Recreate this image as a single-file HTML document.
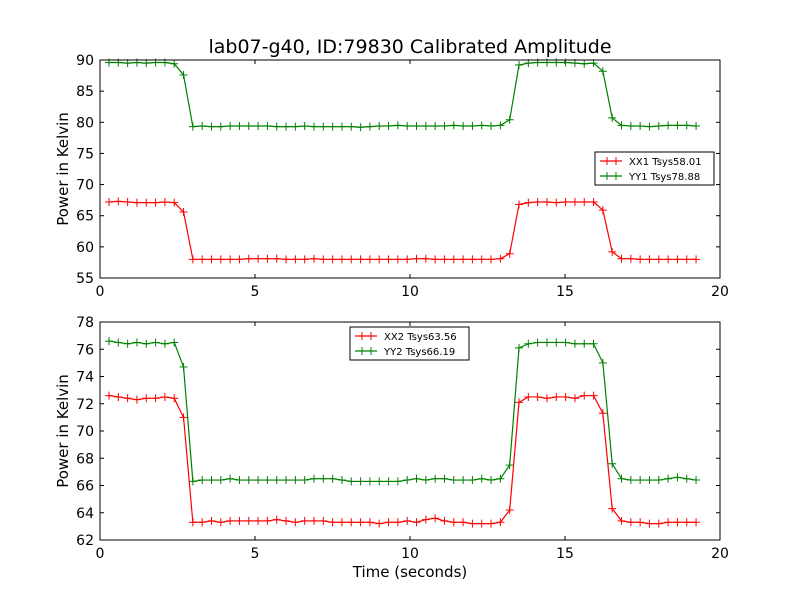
<!DOCTYPE html>
<html><head><meta charset="utf-8"><style>
body{margin:0;background:#fff;}
svg text{font-family:"DejaVu Sans","Liberation Sans",sans-serif;fill:#000;}
</style></head><body>
<svg id="chart" width="800" height="600" xmlns="http://www.w3.org/2000/svg">
<rect width="800" height="600" fill="#fff"/>
<g id="g"></g>
</svg>
<script>
const topXX = [67.2,67.3,67.2,67.1,67.1,67.1,67.2,67.1,65.6,
58.0,58.0,58.0,58.0,58.0,58.0,58.1,58.1,58.1,58.1,58.0,58.0,58.0,58.1,58.0,58.0,58.0,58.0,58.0,58.0,58.0,58.0,58.0,58.0,58.1,58.1,58.0,58.0,58.0,58.0,58.0,58.0,58.0,58.1,
58.9,66.8,67.1,67.2,67.2,67.1,67.2,67.2,67.2,67.2,65.9,59.2,58.1,58.1,58.0,58.0,58.0,58.0,58.0,58.0,58.0];
const topYY = [89.6,89.6,89.5,89.6,89.5,89.6,89.6,89.4,87.6,
79.3,79.4,79.3,79.3,79.4,79.4,79.4,79.4,79.4,79.3,79.3,79.3,79.4,79.3,79.3,79.3,79.3,79.3,79.2,79.3,79.4,79.4,79.5,79.4,79.4,79.4,79.4,79.4,79.5,79.4,79.4,79.5,79.4,79.5,
80.4,89.2,89.5,89.6,89.6,89.6,89.6,89.5,89.4,89.5,88.2,80.7,79.5,79.4,79.4,79.3,79.4,79.5,79.5,79.5,79.4];
const botXX = [72.6,72.5,72.4,72.3,72.4,72.4,72.5,72.4,71.0,
63.3,63.3,63.4,63.3,63.4,63.4,63.4,63.4,63.4,63.5,63.4,63.3,63.4,63.4,63.4,63.3,63.3,63.3,63.3,63.3,63.2,63.3,63.3,63.4,63.3,63.5,63.6,63.4,63.3,63.3,63.2,63.2,63.2,63.3,
64.2,72.1,72.5,72.5,72.4,72.5,72.5,72.4,72.6,72.6,71.3,64.3,63.4,63.3,63.3,63.2,63.2,63.3,63.3,63.3,63.3];
const botYY = [76.6,76.5,76.4,76.5,76.4,76.5,76.4,76.5,74.7,
66.3,66.4,66.4,66.4,66.5,66.4,66.4,66.4,66.4,66.4,66.4,66.4,66.4,66.5,66.5,66.5,66.4,66.3,66.3,66.3,66.3,66.3,66.3,66.4,66.5,66.4,66.5,66.5,66.4,66.4,66.4,66.5,66.4,66.5,
67.5,76.1,76.4,76.5,76.5,76.5,76.5,76.4,76.4,76.4,75.0,67.6,66.5,66.4,66.4,66.4,66.4,66.5,66.6,66.5,66.4];
const tStart = 0.29, tStep = 0.3006;
const xTicks = [0,5,10,15,20];
const topYTicks = [55,60,65,70,75,80,85,90];
const botYTicks = [62,64,66,68,70,72,74,76,78];
const topLegend = ["XX1 Tsys58.01","YY1 Tsys78.88"];
const botLegend = ["XX2 Tsys63.56","YY2 Tsys66.19"];

const NS="http://www.w3.org/2000/svg";
const g=document.getElementById('g');
function mk(tag,attrs,parent){const e=document.createElementNS(NS,tag);for(const k in attrs)e.setAttribute(k,attrs[k]);(parent||g).appendChild(e);return e;}
function txt(s,attrs,parent){const e=mk('text',attrs,parent);e.textContent=s;return e;}

function panel(name,top,bottom,ymin,ymax,yTicks,s1,s2,leg,legX,legY,showXLabel){
  const L=100,R=720;
  const sx=t=>L+(t-0)/(20-0)*(R-L);
  const sy=v=>bottom-(v-ymin)/(ymax-ymin)*(bottom-top);
  const grp=mk('g',{});
  
  
  xTicks.forEach(t=>{
    const x=sx(t);
    mk('line',{x1:x,x2:x,y1:bottom,y2:bottom-4,stroke:'#000'},grp);
    mk('line',{x1:x,x2:x,y1:top,y2:top+4,stroke:'#000'},grp);
    const l=txt(String(t),{x:x,y:bottom+18,'text-anchor':'middle','font-size':14},grp);
    
    
  });
  yTicks.forEach(v=>{
    const y=sy(v);
    mk('line',{x1:L,x2:L+4,y1:y,y2:y,stroke:'#000'},grp);
    mk('line',{x1:R,x2:R-4,y1:y,y2:y,stroke:'#000'},grp);
    const l=txt(String(v),{x:L-6,y:y+5,'text-anchor':'end','font-size':14},grp);
    
    
  });
  [[s1,'#ff0000','xx'],[s2,'#008000','yy']].forEach(([arr,c,n])=>{
    const pts=arr.map((v,i)=>[sx(tStart+i*tStep),sy(v)]);
    const p=mk('polyline',{points:pts.map(p=>p.join(',')).join(' '),fill:'none',stroke:c,'stroke-width':1.2},grp);
    
    
    pts.forEach(([x,y])=>{
      mk('path',{d:`M${x-4},${y}H${x+4}M${x},${y-4}V${y+4}`,stroke:c,'stroke-width':1},grp);
    });
  });
  const frame=mk('rect',{x:L,y:top,width:R-L,height:bottom-top,fill:'none',stroke:'#000','stroke-width':1},grp);
  
  
  const yl=txt('Power in Kelvin',{x:0,y:0,transform:`translate(68,${(top+bottom)/2}) rotate(-90)`,'text-anchor':'middle','font-size':15},grp);
  
  
  if(showXLabel){
    const xl=txt('Time (seconds)',{x:410,y:577,'text-anchor':'middle','font-size':15},grp);
    
    
  }
  const lg=mk('g',{},grp);
  
  
  mk('rect',{x:legX,y:legY,width:119,height:33,fill:'#fff',stroke:'#000','stroke-width':1},lg);
  leg.forEach((s,i)=>{
    const c=i===0?'#ff0000':'#008000';
    const y=legY+9+i*15;
    mk('line',{x1:legX+5,x2:legX+27,y1:y,y2:y,stroke:c,'stroke-width':1.2},lg);
    mk('path',{d:`M${legX+12},${y-4}V${y+4}M${legX+21},${y-4}V${y+4}`,stroke:c},lg);
    const t=txt(s,{x:legX+34,y:y+4,'font-size':10},lg);
    
    
  });
}
const title=txt('lab07-g40, ID:79830 Calibrated Amplitude',{x:410,y:53,'text-anchor':'middle','font-size':19});


panel('top',60,278,55,90,topYTicks,topXX,topYY,topLegend,595,152,false);
panel('bottom',322,540,62,78,botYTicks,botXX,botYY,botLegend,350,327,true);
</script>
</body></html>
